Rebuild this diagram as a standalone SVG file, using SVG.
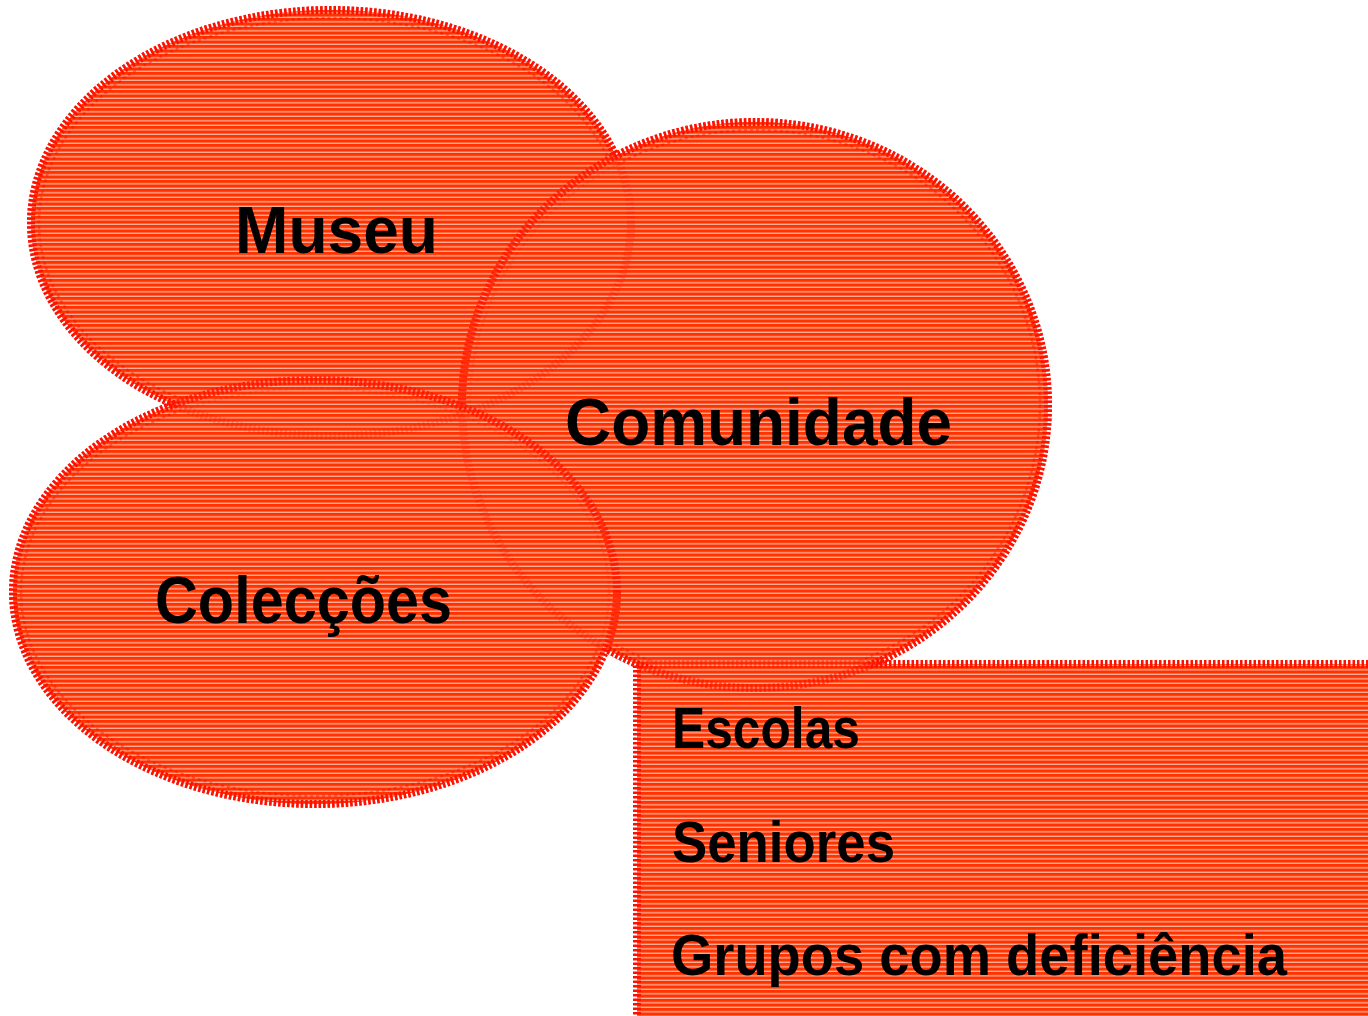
<svg xmlns="http://www.w3.org/2000/svg" xmlns:xlink="http://www.w3.org/1999/xlink" width="1368" height="1016" viewBox="0 0 1368 1016">
<defs>
<pattern id="hatch" patternUnits="userSpaceOnUse" x="0" y="0" width="8" height="4.5">
<rect x="0" y="0" width="8" height="4.5" fill="#FF3300"/>
<rect x="0" y="3.3" width="8" height="0.9" fill="#FFFFFF" fill-opacity="0.9"/>
</pattern>
<style>
.shape{fill:url(#hatch);stroke:#FF1000;stroke-width:8;stroke-dasharray:2.5 2}
.inner{fill:none;stroke:#FF0000;stroke-width:2.5;stroke-dasharray:3 3}
.edge{fill:none;stroke:#FF1000;stroke-width:7;stroke-dasharray:2.5 2;opacity:0.6}
.big{font-family:"Liberation Sans",Arial,sans-serif;font-weight:bold;font-size:67px;fill:#000}
.list{font-family:"Liberation Sans",Arial,sans-serif;font-weight:bold;font-size:57px;fill:#000}
</style>
</defs>
<g id="museu">
<ellipse id="e-museu" class="shape" cx="331" cy="223" rx="300" ry="213"/>
<ellipse class="inner" cx="331" cy="223" rx="292" ry="205"/>
</g>
<g id="comunidade">
<ellipse id="e-comunidade" class="shape" cx="755" cy="405" rx="293" ry="283"/>
<ellipse class="inner" cx="755" cy="405" rx="285" ry="275"/>
</g>
<g id="coleccoes">
<ellipse id="e-coleccoes" class="shape" cx="315" cy="592" rx="302" ry="212"/>
<ellipse class="inner" cx="315" cy="592" rx="294" ry="204"/>
</g>
<g id="publicos">
<rect id="r-publicos" class="shape" x="637" y="664" width="740" height="360"/>
</g>
<g id="connectors">
<use xlink:href="#e-museu" class="edge"/>
<use xlink:href="#e-comunidade" class="edge"/>
<use xlink:href="#e-coleccoes" class="edge"/>
</g>
<g id="labels">
<text class="big" x="235" y="253" textLength="203" lengthAdjust="spacingAndGlyphs">Museu</text>
<text class="big" x="565" y="445" textLength="387" lengthAdjust="spacingAndGlyphs">Comunidade</text>
<text class="big" x="155" y="623" textLength="297" lengthAdjust="spacingAndGlyphs">Colecções</text>
<text class="list" x="672" y="748" textLength="188" lengthAdjust="spacingAndGlyphs">Escolas</text>
<text class="list" x="672" y="862" textLength="223" lengthAdjust="spacingAndGlyphs">Seniores</text>
<text class="list" x="671" y="975" textLength="616" lengthAdjust="spacingAndGlyphs">Grupos com deficiência</text>
</g>
</svg>
